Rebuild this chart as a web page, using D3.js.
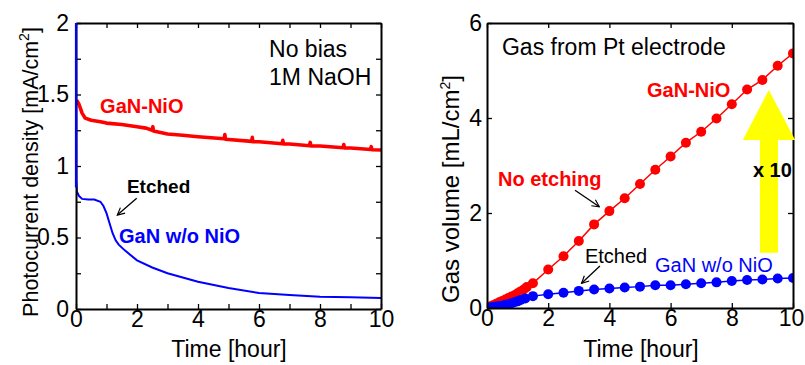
<!DOCTYPE html>
<html>
<head>
<meta charset="utf-8">
<script src="https://cdn.jsdelivr.net/npm/d3@7"></script>
<style>
  body { margin: 0; background: #fff; }
  svg text { font-family: "Liberation Sans", Arial, sans-serif; }
</style>
</head>
<body>
<div id="chart-container"></div>
<script>
// ---- data ----
// left panel: photocurrent density vs time
const pcTimeRed = [0.02, 0.1, 0.2, 0.3, 0.5, 0.8, 1.0, 1.5, 2.0, 2.3, 2.5, 2.52, 2.54, 3.0, 3.5, 4.0, 4.86, 4.88, 4.9, 5.76, 5.78, 5.8, 6.0, 6.76, 6.78, 6.8, 7.0, 7.66, 7.68, 7.7, 8.0, 8.76, 8.78, 8.8, 9.0, 9.66, 9.68, 9.7, 10.0];
const pcRed      = [1.46, 1.43, 1.37, 1.335, 1.32, 1.31, 1.30, 1.29, 1.275, 1.265, 1.25, 1.275, 1.245, 1.224, 1.215, 1.205, 1.19, 1.22, 1.187, 1.172, 1.20, 1.17, 1.17, 1.156, 1.18, 1.155, 1.154, 1.142, 1.165, 1.141, 1.14, 1.128, 1.15, 1.127, 1.126, 1.115, 1.135, 1.114, 1.112];
const pcTimeBlue = [0, 0.01, 0.03, 0.1, 0.2, 0.4, 0.6, 0.8, 0.9, 1.0, 1.1, 1.2, 1.3, 1.4, 1.6, 2.0, 2.5, 3.0, 4.0, 5.0, 6.0, 7.0, 8.0, 9.0, 10.0];
const pcBlue     = [2.0, 0.9, 0.82, 0.79, 0.77, 0.765, 0.765, 0.75, 0.72, 0.67, 0.6, 0.53, 0.48, 0.45, 0.41, 0.34, 0.29, 0.25, 0.19, 0.147, 0.112, 0.098, 0.086, 0.082, 0.077];

// right panel: gas volume vs time
const gasTimeRed = [0, 0.1, 0.2, 0.3, 0.4, 0.5, 0.6, 0.7, 0.8, 0.9, 1.0, 1.1, 1.2, 1.3, 1.5, 2.0, 2.5, 3.0, 3.5, 4.0, 4.5, 5.0, 5.5, 6.0, 6.5, 7.0, 7.5, 8.0, 8.5, 9.0, 9.5, 10.0];
const gasRed     = [0, 0.03, 0.06, 0.09, 0.12, 0.15, 0.18, 0.21, 0.24, 0.27, 0.31, 0.35, 0.39, 0.44, 0.52, 0.81, 1.09, 1.41, 1.76, 2.04, 2.31, 2.61, 2.91, 3.19, 3.48, 3.71, 3.99, 4.29, 4.60, 4.80, 5.10, 5.36];
const gasTimeBlue = [0, 0.1, 0.2, 0.3, 0.4, 0.5, 0.6, 0.7, 0.8, 0.9, 1.0, 1.1, 1.25, 1.5, 2.0, 2.5, 3.0, 3.5, 4.0, 4.5, 5.0, 5.5, 6.0, 6.5, 7.0, 7.5, 8.0, 8.5, 9.0, 9.5, 10.0];
const gasBlue     = [0, 0.01, 0.02, 0.03, 0.04, 0.05, 0.07, 0.08, 0.1, 0.12, 0.14, 0.17, 0.2, 0.25, 0.29, 0.32, 0.36, 0.39, 0.41, 0.43, 0.45, 0.48, 0.48, 0.50, 0.52, 0.54, 0.57, 0.59, 0.60, 0.62, 0.63];

// tick values
const leftXTicks = [0, 2, 4, 6, 8, 10];
const leftXMinor = [1, 3, 5, 7, 9];
const leftYTicks = [0, 0.5, 1, 1.5, 2];
const leftYMinor = [0.25, 0.75, 1.25, 1.75];
const rightXTicks = [0, 2, 4, 6, 8, 10];
const rightYTicks = [0, 2, 4, 6];

const RED = "#ff0000";
const BLUE = "#0000ff";
const FONT = 23;       // titles / plain notes
const TICK_FONT = 23;  // tick labels

const svg = d3.select("#chart-container")
  .append("svg")
  .attr("width", 805)
  .attr("height", 365);

// arrow head for annotation arrows
svg.append("defs").append("marker")
  .attr("id", "vhead")
  .attr("viewBox", "0 0 10 10")
  .attr("refX", 9).attr("refY", 5)
  .attr("markerWidth", 9).attr("markerHeight", 9)
  .attr("markerUnits", "userSpaceOnUse")
  .attr("orient", "auto")
  .append("path")
  .attr("d", "M1,1 L9,5 L1,9")
  .attr("fill", "none")
  .attr("stroke", "#000")
  .attr("stroke-width", 1.3);

// draw the frame with inward ticks on every side
function drawFrame(g, x, y, xTicks, yTicks, xMinor, yMinor, yPad) {
  const [x0, x1] = x.range();
  const [y0, y1] = y.range();
  const styleAxis = sel => {
    sel.select(".domain").attr("stroke", "#000").attr("stroke-width", 2);
    sel.selectAll(".tick line").attr("stroke", "#000").attr("stroke-width", 1.3);
    sel.selectAll("text").style("font-size", TICK_FONT + "px").attr("fill", "#000")
      .style("font-family", "'Liberation Sans', Arial, sans-serif");
  };
  const bottom = g.append("g").attr("transform", `translate(0,${y0})`)
    .call(d3.axisBottom(x).tickValues(xTicks).tickSizeInner(-5).tickSizeOuter(0).tickPadding(2).tickFormat(d3.format("d")))
    .call(styleAxis);
  g.append("g").attr("transform", `translate(0,${y1})`)
    .call(d3.axisTop(x).tickValues(xTicks).tickSizeInner(-5).tickSizeOuter(0).tickFormat(""))
    .call(styleAxis);
  g.append("g").attr("transform", `translate(${x0},0)`)
    .call(d3.axisLeft(y).tickValues(yTicks).tickSizeInner(-5).tickSizeOuter(0).tickPadding(yPad).tickFormat(d => d3.format("")(d)))
    .call(styleAxis);
  g.append("g").attr("transform", `translate(${x1},0)`)
    .call(d3.axisRight(y).tickValues(yTicks).tickSizeInner(-5).tickSizeOuter(0).tickFormat(""))
    .call(styleAxis);
  if (xMinor) {
    [["axisBottom", y0], ["axisTop", y1]].forEach(([fn, pos]) => {
      g.append("g").attr("transform", `translate(0,${pos})`)
        .call(d3[fn](x).tickValues(xMinor).tickSizeInner(-5).tickSizeOuter(0).tickFormat(""))
        .call(sel => sel.select(".domain").remove())
        .call(sel => sel.selectAll("line").attr("stroke", "#000").attr("stroke-width", 1.3));
    });
  }
  if (yMinor) {
    [["axisLeft", x0], ["axisRight", x1]].forEach(([fn, pos]) => {
      g.append("g").attr("transform", `translate(${pos},0)`)
        .call(d3[fn](y).tickValues(yMinor).tickSizeInner(-5).tickSizeOuter(0).tickFormat(""))
        .call(sel => sel.select(".domain").remove())
        .call(sel => sel.selectAll("line").attr("stroke", "#000").attr("stroke-width", 1.3));
    });
  }
  return bottom;
}

function addText(g, x, y, t, v, str, opts) {
  return g.append("text")
    .attr("x", x(t)).attr("y", y(v))
    .text(str)
    .style("font-size", (opts.size || FONT) + "px")
    .style("font-weight", opts.bold ? "bold" : "normal")
    .attr("fill", opts.color || "#000");
}

function addArrow(g, x, y, from, to) {
  g.append("line")
    .attr("x1", x(from[0])).attr("y1", y(from[1]))
    .attr("x2", x(to[0])).attr("y2", y(to[1]))
    .attr("stroke", "#000").attr("stroke-width", 1.3)
    .attr("marker-end", "url(#vhead)");
}

function yLabel(g, px, py, main, size) {
  const t = g.append("text")
    .attr("transform", `translate(${px},${py}) rotate(-90)`)
    .attr("text-anchor", "middle")
    .style("font-size", size + "px");
  t.append("tspan").text(main);
  t.append("tspan").text("2").attr("dy", -9).style("font-size", "14px");
  t.append("tspan").text("]").attr("dy", 9);
}

// ================= left panel =================
const xL = d3.scaleLinear().domain([0, 10]).range([76, 381]);
const yL = d3.scaleLinear().domain([0, 2]).range([309, 23]);
const gL = svg.append("g");

gL.append("clipPath").attr("id", "clipL").append("rect")
  .attr("x", 76).attr("y", 23).attr("width", 305).attr("height", 286);

const lineL = d3.line().x(d => xL(d[0])).y(d => yL(d[1]));
const dataL = gL.append("g").attr("clip-path", "url(#clipL)");
dataL.append("path")
  .datum(d3.zip(pcTimeBlue, pcBlue))
  .attr("d", lineL)
  .attr("fill", "none").attr("stroke", BLUE).attr("stroke-width", 2);
dataL.append("path")
  .datum(d3.zip(pcTimeRed, pcRed))
  .attr("d", lineL)
  .attr("fill", "none").attr("stroke", RED).attr("stroke-width", 3.6)
  .attr("stroke-linejoin", "round");

drawFrame(gL, xL, yL, leftXTicks, leftYTicks, leftXMinor, leftYMinor, 7);
// blue spike at t=0 sits on top of the left axis
gL.append("line")
  .attr("x1", xL(0)).attr("x2", xL(0))
  .attr("y1", yL(2)).attr("y2", yL(0.85))
  .attr("stroke", BLUE).attr("stroke-width", 2.2);

addText(gL, xL, yL, 6.33, 1.762, "No bias", {});
addText(gL, xL, yL, 6.33, 1.566, "1M NaOH", {});
addText(gL, xL, yL, 0.79, 1.371, "GaN-NiO", { bold: true, color: RED, size: 20 });
addText(gL, xL, yL, 1.67, 0.811, "Etched", { bold: true, size: 19 });
addText(gL, xL, yL, 1.41, 0.462, "GaN w/o NiO", { bold: true, color: BLUE, size: 20 });
addArrow(gL, xL, yL, [1.99, 0.774], [1.354, 0.657]);

gL.append("text")
  .attr("x", 229).attr("y", 357)
  .attr("text-anchor", "middle")
  .style("font-size", FONT + "px")
  .text("Time [hour]");
yLabel(gL, 38, 172, "Photocurrent density [mA/cm", 21.5);

// ================= right panel =================
const xR = d3.scaleLinear().domain([0, 10]).range([487, 793]);
const yR = d3.scaleLinear().domain([0, 6]).range([308, 23]);
const gR = svg.append("g");

gR.append("clipPath").attr("id", "clipR").append("rect")
  .attr("x", 487).attr("y", 23).attr("width", 306).attr("height", 285);

const lineR = d3.line().x(d => xR(d[0])).y(d => yR(d[1]));
const dataR = gR.append("g").attr("clip-path", "url(#clipR)");

[[gasTimeRed, gasRed, RED], [gasTimeBlue, gasBlue, BLUE]].forEach(([ts, vs, col]) => {
  const pts = d3.zip(ts, vs);
  dataR.append("path")
    .datum(pts)
    .attr("d", lineR)
    .attr("fill", "none").attr("stroke", col).attr("stroke-width", 1.5);
  dataR.selectAll(null)
    .data(pts)
    .join("circle")
    .attr("cx", d => xR(d[0]))
    .attr("cy", d => yR(d[1]))
    .attr("r", 5)
    .attr("fill", col);
});

const bottomR = drawFrame(gR, xR, yR, rightXTicks, rightYTicks, null, null, 5);
// keep the last label inside the page edge
bottomR.selectAll(".tick text").filter(d => d === 10).attr("dx", -2);

// yellow "x 10" arrow
const yellowArrow = [[8.92, 1.164], [8.92, 3.537], [8.36, 3.537], [9.21, 4.59], [10.07, 3.537], [9.51, 3.537], [9.51, 1.164]];
gR.append("path")
  .attr("d", d3.line().x(d => xR(d[0])).y(d => yR(d[1]))(yellowArrow) + "Z")
  .attr("fill", "#ffff00");

addText(gR, xR, yR, 0.49, 5.33, "Gas from Pt electrode", {});
addText(gR, xR, yR, 5.23, 4.44, "GaN-NiO", { bold: true, color: RED, size: 20 });
addText(gR, xR, yR, 0.36, 2.57, "No etching", { bold: true, color: RED, size: 20 });
addText(gR, xR, yR, 3.2, 0.947, "Etched", { size: 20 });
addText(gR, xR, yR, 5.49, 0.758, "GaN w/o NiO", { color: BLUE, size: 20 });
addText(gR, xR, yR, 8.69, 2.76, "x 10", { bold: true, size: 20 });
addArrow(gR, xR, yR, [2.876, 2.48], [3.67, 2.13]);
addArrow(gR, xR, yR, [3.69, 0.884], [3.09, 0.52]);

gR.append("text")
  .attr("x", 641).attr("y", 357)
  .attr("text-anchor", "middle")
  .style("font-size", FONT + "px")
  .text("Time [hour]");
yLabel(gR, 459, 189, "Gas volume [mL/cm", 24);
</script>
</body>
</html>
